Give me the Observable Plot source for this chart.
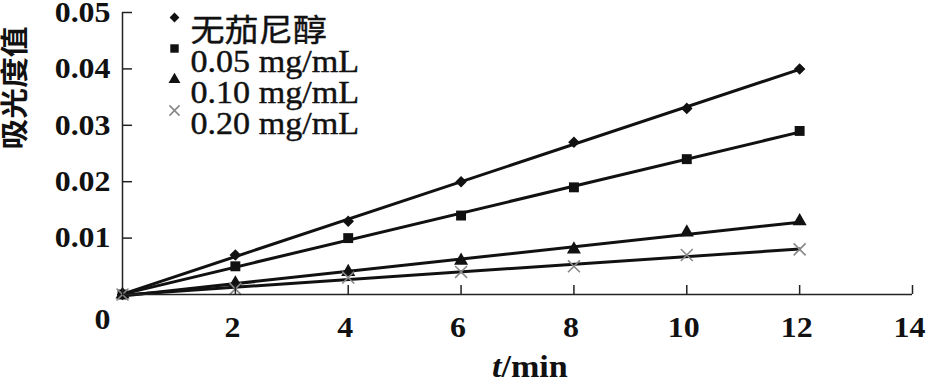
<!DOCTYPE html>
<html><head><meta charset="utf-8">
<script src="https://cdn.jsdelivr.net/npm/d3@7"></script>
<script src="https://cdn.jsdelivr.net/npm/@observablehq/plot@0.6"></script>
<style>body{margin:0;background:#fff}</style>
</head><body><div id="chart"></div>
<script>
const times = [0, 2, 4, 6, 8, 10, 12];
const seriesNames = ["无茄尼醇", "0.05 mg/mL", "0.10 mg/mL", "0.20 mg/mL"];
const valuesNone = [0, 0.007, 0.013, 0.020, 0.027, 0.033, 0.040];
const values005 = [0, 0.005, 0.010, 0.014, 0.019, 0.024, 0.029];
const values010 = [0, 0.002, 0.004, 0.006, 0.008, 0.011, 0.013];
const values020 = [0, 0.001, 0.003, 0.004, 0.005, 0.007, 0.008];
const xTicks = [0, 2, 4, 6, 8, 10, 12, 14];
const yTicks = [0.01, 0.02, 0.03, 0.04, 0.05];
const xLabel = ["t", "/min"];
const yLabel = "吸光度值";

const allValues = [valuesNone, values005, values010, values020];
const symbols = ["diamond2", "square", "triangle", "times"];
const radii = [5.2, 5.6, 5.2, 5.5];
const filled = [true, true, true, false];
const colors = ["#111", "#111", "#111", "#888"];

const rows = seriesNames.flatMap((s, i) => times.map((t, j) => ({t, v: allValues[i][j], s})));

const W = 935, H = 388, mL = 122, mR = 23, mT = 12, mB = 94;
const pw = W - mL - mR, ph = H - mT - mB;
const serif = "'Liberation Serif', 'Noto Sans CJK SC', serif";

const dotMarks = seriesNames.map((name, i) => Plot.dot(rows, {
  filter: d => d.s === name, x: "t", y: "v", symbol: symbols[i], r: radii[i],
  fill: filled[i] ? colors[i] : "none", stroke: filled[i] ? "none" : colors[i], strokeWidth: 1.6
}));

const legendMarks = seriesNames.flatMap((name, i) => [
  Plot.dot([name], {frameAnchor: "top-left", dx: 52, dy: 5 + 31 * i, symbol: symbols[i], r: radii[i] * 0.85,
    fill: filled[i] ? colors[i] : "none", stroke: filled[i] ? "none" : colors[i], strokeWidth: 1.6}),
  Plot.text([name], {frameAnchor: "top-left", dx: 68, dy: 6 + 31 * i, text: d => d, textAnchor: "start",
    fontSize: 31, fill: "#111", stroke: "#111", strokeWidth: 0.4, ariaLabel: "legend-text"})
]);

const svg = Plot.plot({
  width: W, height: H,
  marginLeft: mL, marginRight: mR, marginTop: mT, marginBottom: mB,
  style: {fontFamily: serif, fontSize: "29px", color: "#111", background: "#fff", overflow: "visible"},
  x: {domain: [0, 14]},
  y: {domain: [0, 0.05]},
  marks: [
    Plot.linearRegressionY(rows, {x: "t", y: "v", z: "s", stroke: "#111", strokeWidth: 3, ci: 0}),
    ...dotMarks,
    Plot.ruleX([0], {stroke: "#222", strokeWidth: 1.5}),
    Plot.ruleY([0], {stroke: "#222", strokeWidth: 1.5}),
    Plot.tickX(xTicks.filter(d => d > 0), {x: d => d, insetTop: ph - 9, stroke: "#222", strokeWidth: 1.5}),
    Plot.tickY(yTicks, {y: d => d, insetRight: pw - 10, stroke: "#222", strokeWidth: 1.5}),
    Plot.axisY({ticks: yTicks, tickSize: 0, tickPadding: 12, tickFormat: d3.format(".2f"), label: null,
      fontWeight: "bold", fontSize: 29}),
    Plot.axisX({ticks: xTicks.filter(d => d > 0), tickSize: 0, tickPadding: 22, label: null, dx: -3,
      fontWeight: "bold", fontSize: 29}),
    Plot.text([xTicks[0]], {x: d => d, frameAnchor: "bottom", dx: -20, dy: 34, text: d => String(d),
      fontWeight: "bold", fontSize: 29, fill: "#111"}),
    ...legendMarks,
    Plot.text([xLabel[0]], {frameAnchor: "bottom", dx: -16, dy: 82, text: d => d, textAnchor: "end",
      fontStyle: "italic", fontWeight: "bold", fontSize: 31, fill: "#111"}),
    Plot.text([xLabel[1]], {frameAnchor: "bottom", dx: -16, dy: 82, text: d => d, textAnchor: "start",
      fontWeight: "bold", fontSize: 31, fill: "#111"}),
    Plot.text([yLabel], {frameAnchor: "left", dx: -106, dy: -4, text: d => d, rotate: -90,
      fontSize: 28, fontWeight: "bold", fill: "#111", ariaLabel: "ylabel"})
  ]
});

svg.querySelectorAll("text").forEach(t => {
  const tr = t.getAttribute("transform") || "";
  const k = t.closest('g[aria-label="ylabel"]') ? 1.35 : t.closest('g[aria-label="legend-text"]') ? 1.04 : 1.1;
  t.setAttribute("transform", tr + ` scale(${k},1)`);
});

document.getElementById("chart").appendChild(svg);
</script>
</body></html>
